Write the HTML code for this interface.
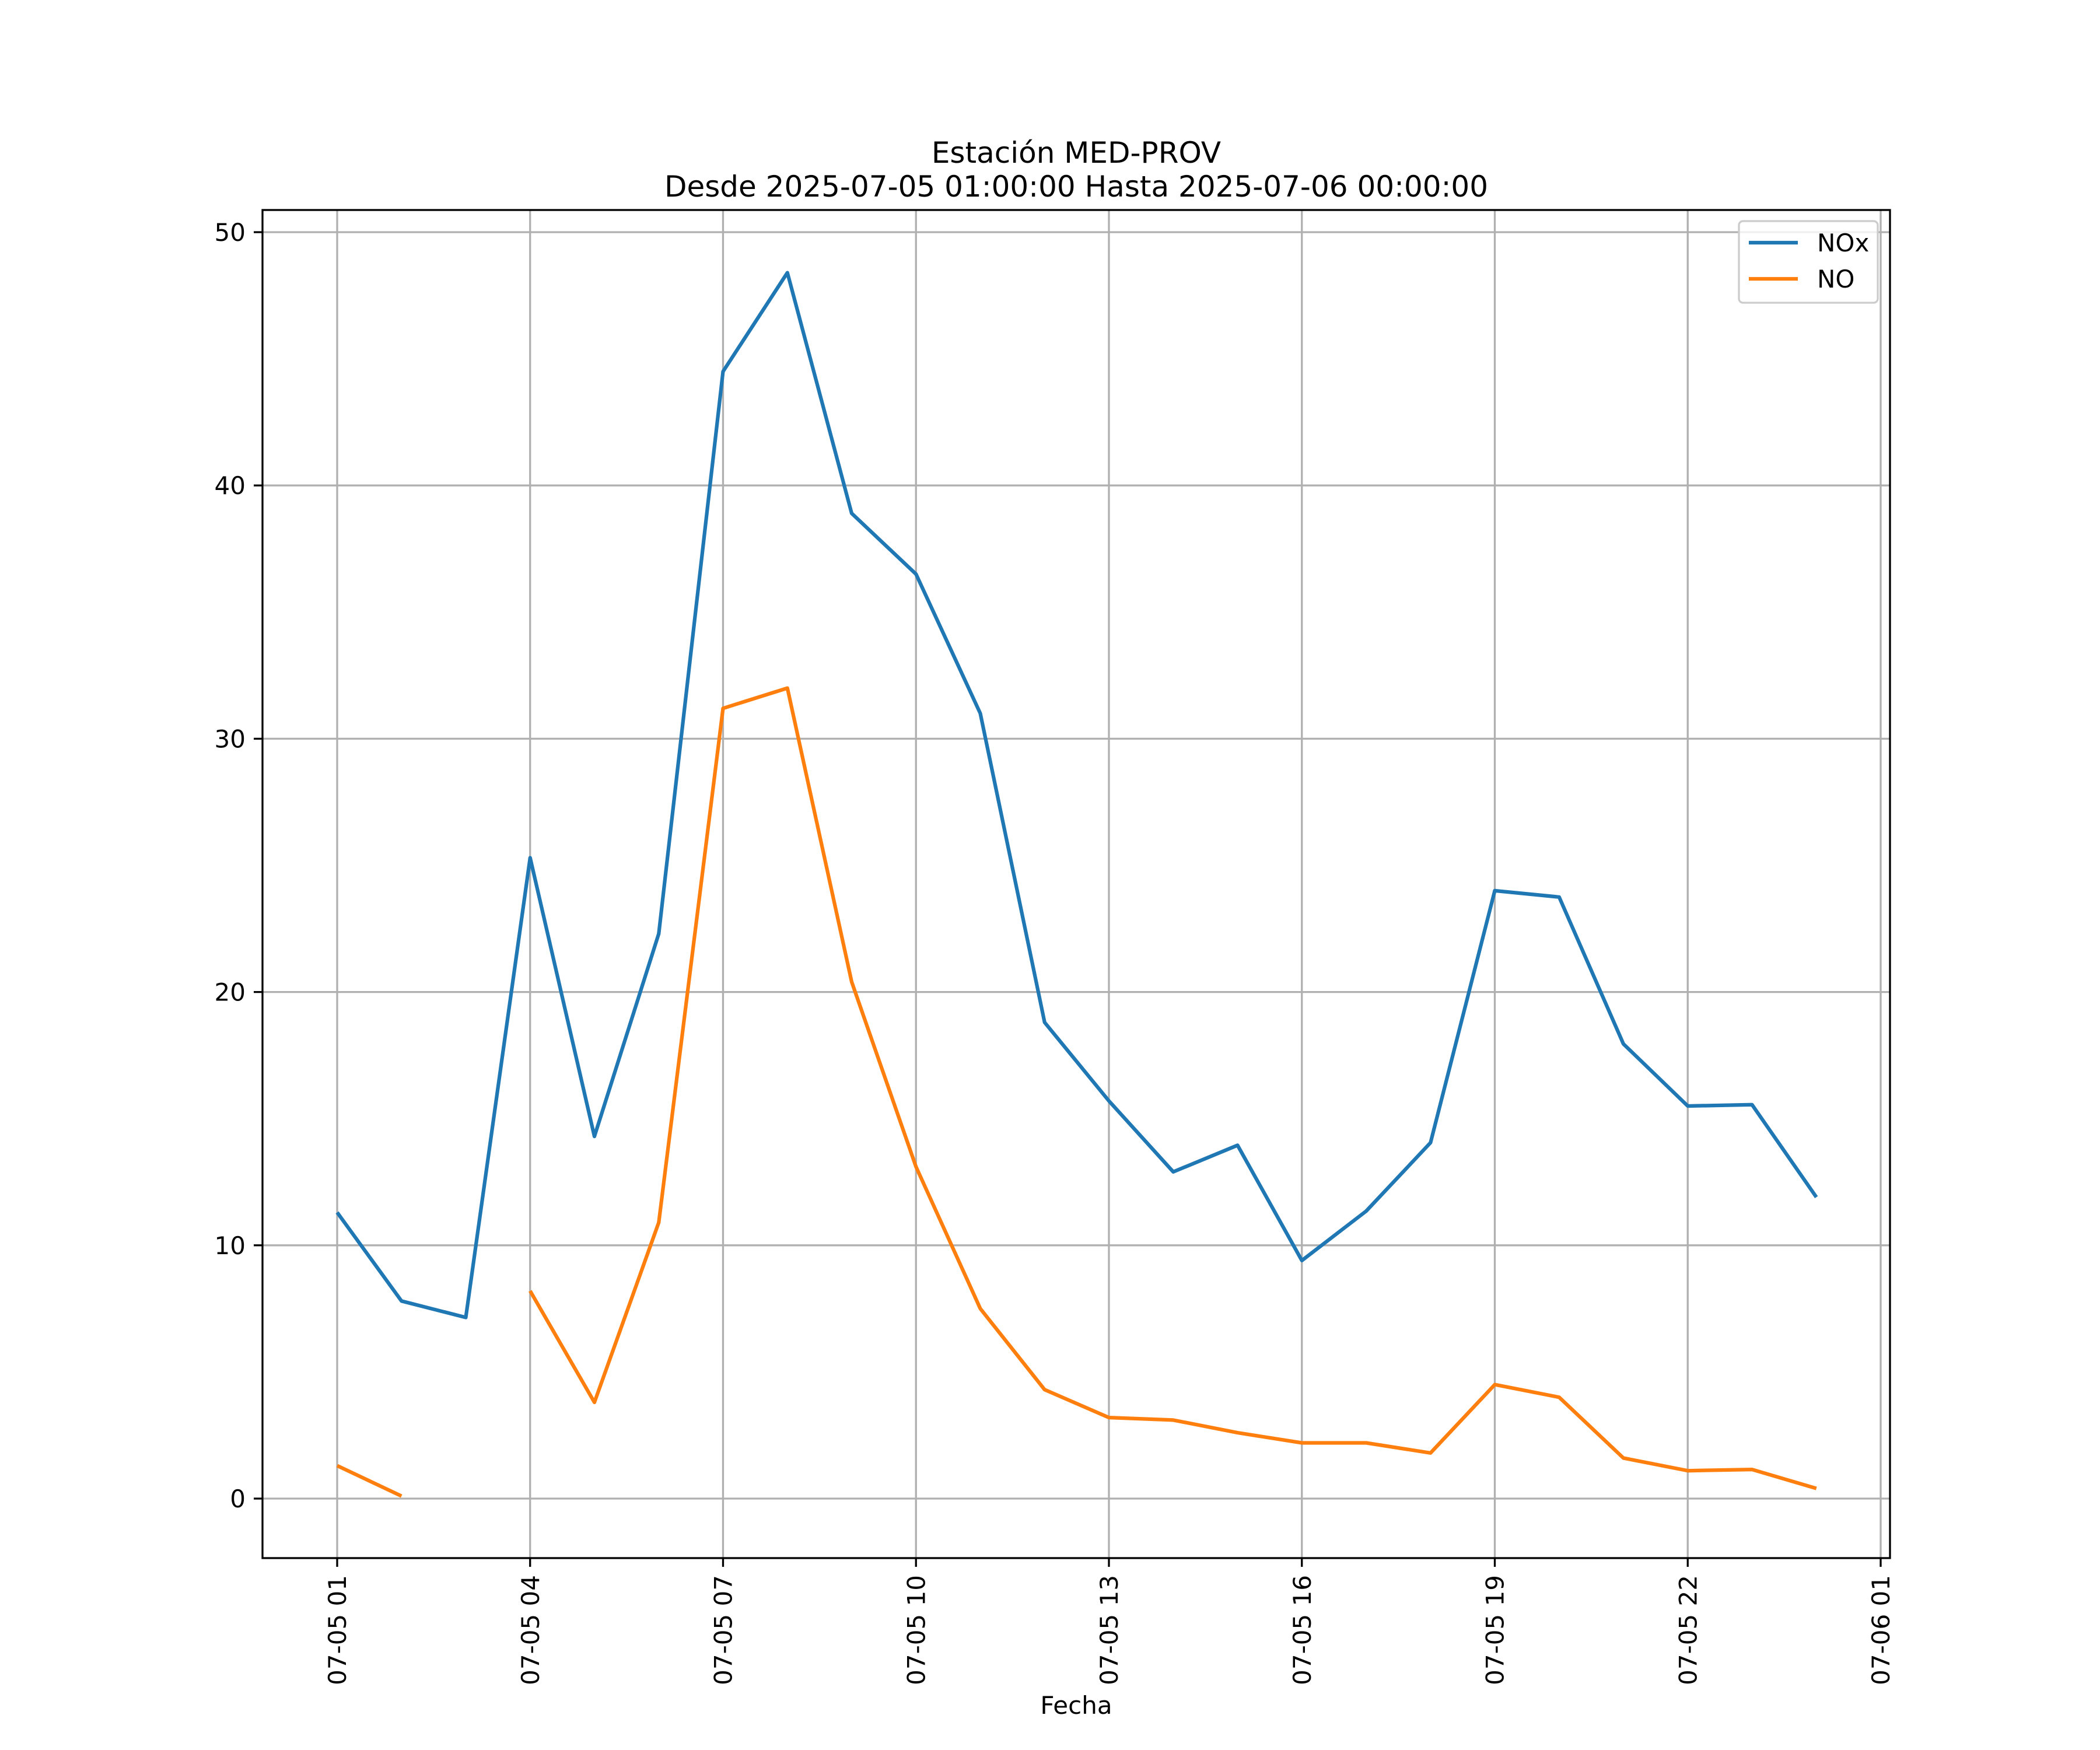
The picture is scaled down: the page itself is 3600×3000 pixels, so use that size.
<!DOCTYPE html>
<html><head><meta charset="utf-8"><style>
html,body{margin:0;padding:0;background:#fff;}
svg{display:block;font-family:"DejaVu Sans","Liberation Sans",sans-serif;}
</style></head><body>
<svg id="chart" width="3600" height="3000" viewBox="0 0 3600 3000" xmlns="http://www.w3.org/2000/svg">
<rect width="3600" height="3000" fill="#fff"/>
<text x="1845" y="279" font-size="50" text-anchor="middle">Estación MED-PROV</text>
<text x="1845" y="337" font-size="50" text-anchor="middle">Desde 2025-07-05 01:00:00 Hasta 2025-07-06 00:00:00</text>
<g id="grid"></g>
<g id="series"></g>
<rect x="450" y="360" width="2790" height="2311" fill="none" stroke="#000" stroke-width="3.3"/>
<g id="axes"></g>
<text x="1845" y="2938" font-size="42" text-anchor="middle">Fecha</text>
<g>
<rect x="2981" y="379" width="238" height="140" rx="7" fill="#fff" fill-opacity="0.8" stroke="#ccc" stroke-width="3.3"/>
<line x1="2998" y1="416" x2="3082" y2="416" stroke="#1f77b4" stroke-width="6.25"/>
<text x="3115" y="431" font-size="42">NOx</text>
<line x1="2998" y1="478" x2="3082" y2="478" stroke="#ff7f0e" stroke-width="6.25"/>
<text x="3115" y="493" font-size="42">NO</text>
</g>
</svg>
<script>
const hours = [1,2,3,4,5,6,7,8,9,10,11,12,13,14,15,16,17,18,19,20,21,22,23,24];
const noxValues = [11.3,7.8,7.15,25.3,14.3,22.3,44.5,48.4,38.9,36.5,31.0,18.8,15.7,12.9,13.95,9.4,11.35,14.05,24.0,23.75,17.95,15.5,15.55,11.9];
const noValues = [1.3,0.1,null,8.2,3.8,10.9,31.2,32.0,20.4,13.1,7.5,4.3,3.2,3.1,2.6,2.2,2.2,1.8,4.5,4.0,1.6,1.1,1.15,0.4];
const xTickHours = [1,4,7,10,13,16,19,22,25];
const xTickLabels = ["07-05 01","07-05 04","07-05 07","07-05 10","07-05 13","07-05 16","07-05 19","07-05 22","07-06 01"];
const yTicks = [0,10,20,30,40,50];

const NS="http://www.w3.org/2000/svg";
const X = h => 578 + (h-1)*(3224-578)/24;
const Y = v => 2569 - v*(2569-398)/50;
function mk(tag, attrs, parent){const e=document.createElementNS(NS,tag);for(const k in attrs)e.setAttribute(k,attrs[k]);parent.appendChild(e);return e;}
const grid=document.getElementById('grid'), axes=document.getElementById('axes'), series=document.getElementById('series');
xTickHours.forEach((h,i)=>{
  const gl=mk('line',{x1:X(h),x2:X(h),y1:360,y2:2671,stroke:'#b0b0b0','stroke-width':3.3},grid);
  
  
  const t=mk('line',{x1:X(h),x2:X(h),y1:2671,y2:2686,stroke:'#000','stroke-width':3.3},axes);
  
  
  const tx=mk('text',{x:0,y:0,'font-size':42,'text-anchor':'end',transform:`translate(${X(h)+15},2700) rotate(-90)`},axes);
  tx.textContent=xTickLabels[i];
  
  
});
yTicks.forEach(v=>{
  const gl=mk('line',{x1:450,x2:3240,y1:Y(v),y2:Y(v),stroke:'#b0b0b0','stroke-width':3.3},grid);
  
  
  const t=mk('line',{x1:435,x2:450,y1:Y(v),y2:Y(v),stroke:'#000','stroke-width':3.3},axes);
  
  
  const tx=mk('text',{x:421,y:Y(v)+15,'font-size':42,'text-anchor':'end'},axes);
  tx.textContent=v;
  
  
});
function path(vals){let d='',pen=false;vals.forEach((v,i)=>{if(v===null){pen=false;return;}d+=(pen?'L':'M')+X(hours[i]).toFixed(1)+' '+Y(v).toFixed(1)+' ';pen=true;});return d;}
const p1=mk('path',{d:path(noxValues),fill:'none',stroke:'#1f77b4','stroke-width':6.25,'stroke-linejoin':'round'},series);


const p2=mk('path',{d:path(noValues),fill:'none',stroke:'#ff7f0e','stroke-width':6.25,'stroke-linejoin':'round'},series);


</script>
</body></html>
